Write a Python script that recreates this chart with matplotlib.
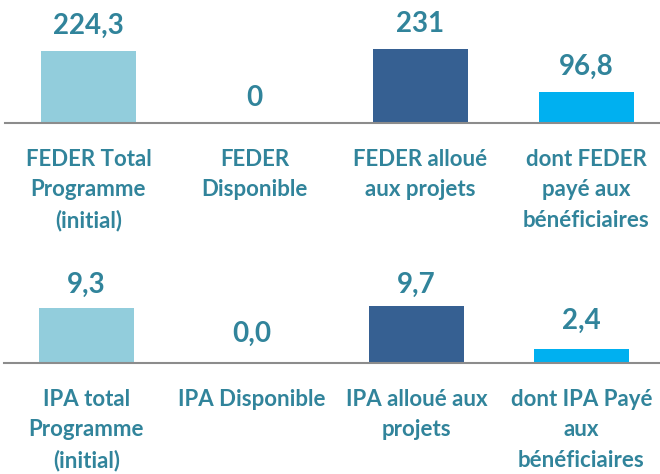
import matplotlib.pyplot as plt

# Data
feder_labels = ['FEDER Total\nProgramme\n(initial)', 'FEDER\nDisponible',
                'FEDER alloué\naux projets', 'dont FEDER\npayé aux\nbénéficiaires']
feder_values = [224.3, 0, 231, 96.8]
feder_texts = ['224,3', '0', '231', '96,8']

ipa_labels = ['IPA total\nProgramme\n(initial)', 'IPA Disponible',
              'IPA alloué aux\nprojets', 'dont IPA Payé\naux\nbénéficiaires']
ipa_values = [9.3, 0.0, 9.7, 2.4]
ipa_texts = ['9,3', '0,0', '9,7', '2,4']

# Style
bar_colors = ['#92CDDC', '#92CDDC', '#366092', '#00B0F0']
text_color = '#31849B'
W, H = 660, 474
plt.rcParams['font.family'] = ['Lato', 'DejaVu Sans']
plt.rcParams['font.weight'] = 'bold'

fig = plt.figure(figsize=(W / 100, H / 100), dpi=100)


def panel(x0, base, top, xlim, ymax, labels, values, texts, val_off):
    # pixel box -> figure fraction
    ax = fig.add_axes([x0 / W, 1 - base / H, (W - x0) / W, (base - top) / H])
    x = list(range(len(values)))
    ax.bar(x, values, width=0.575, color=bar_colors)
    ax.set_xlim(*xlim)
    ax.set_ylim(0, ymax)
    for s in ['top', 'right', 'left']:
        ax.spines[s].set_visible(False)
    ax.spines['bottom'].set_color('#8C8C8C')
    ax.spines['bottom'].set_linewidth(1.5)
    ax.set_yticks([])
    ax.set_xticks([])
    for xi, v, t, off in zip(x, values, texts, val_off):
        ax.annotate(t, (xi, v), xytext=(0, off), textcoords='offset pixels',
                    ha='center', va='baseline', fontsize=20,
                    fontweight='bold', color=text_color, annotation_clip=False)
    for xi, lab in zip(x, labels):
        ax.annotate(lab, (xi, 0), xytext=(0, -26), textcoords='offset pixels',
                    ha='center', va='top', fontsize=16, linespacing=1.55,
                    fontweight='bold', color=text_color, annotation_clip=False)
    return ax


panel(5, 123, 0, (-0.503, 3.443), 123 / 0.321,
      feder_labels, feder_values, feder_texts, [17, 17, 17, 17])
panel(4, 363, 240, (-0.5, 3.476), 123 / 5.9,
      ipa_labels, ipa_values, ipa_texts, [15, 21, 13, 20])

fig.savefig('out.png', dpi=100)
